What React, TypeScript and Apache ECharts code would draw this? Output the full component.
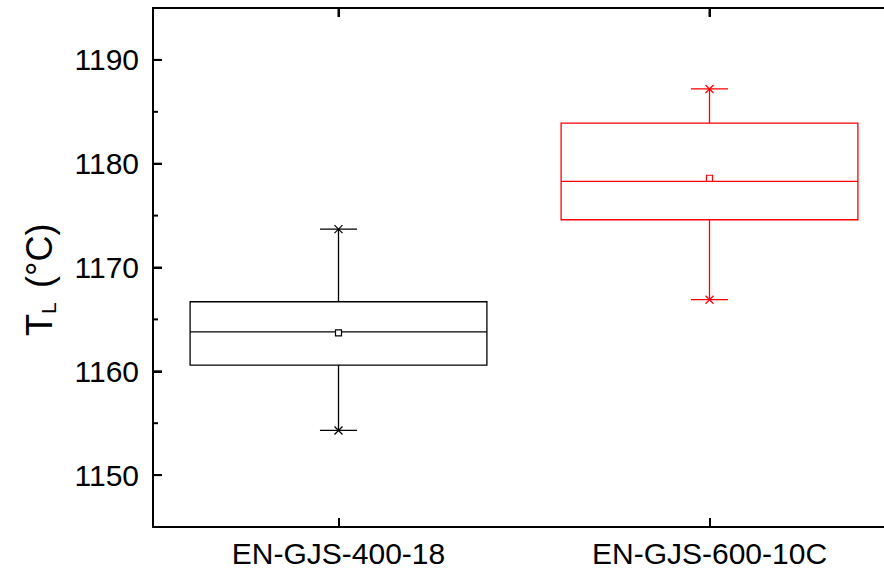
import React, { useEffect, useRef } from "react";
import * as echarts from "echarts";

const categories = ["EN-GJS-400-18", "EN-GJS-600-10C"];
const minValues = [1154.3, 1166.9];
const q1Values = [1160.6, 1174.6];
const medianValues = [1163.8, 1178.3];
const q3Values = [1166.7, 1183.9];
const maxValues = [1173.7, 1187.2];
const meanValues = [1163.7, 1178.6];
const seriesColors = ["#000000", "#ff0000"];

const yMin = 1145;
const yMax = 1195;
const yMajorTicks = [1150, 1160, 1170, 1180, 1190];
const yMinorTicks = [1155, 1165, 1175, 1185];

const FONT = "'Liberation Sans', Arial, sans-serif";

export default function App() {
  const ref = useRef<HTMLDivElement>(null);

  useEffect(() => {
    if (!ref.current) return;
    const chart = echarts.init(ref.current, null, { renderer: "svg" });

    const data = categories.map((_, i) => [
      i,
      minValues[i],
      q1Values[i],
      medianValues[i],
      q3Values[i],
      maxValues[i],
      meanValues[i],
    ]);

    const renderItem = (params: any, api: any) => {
      const idx = api.value(0);
      const color = seriesColors[idx];
      const band = api.size([1, 0])[0];
      const halfW = band * 0.4;
      const capHalf = band * 0.05;
      const [cx, yLo] = api.coord([idx, api.value(1)]);
      const yQ1 = api.coord([idx, api.value(2)])[1];
      const yMed = api.coord([idx, api.value(3)])[1];
      const yQ3 = api.coord([idx, api.value(4)])[1];
      const yHi = api.coord([idx, api.value(5)])[1];
      const yMean = api.coord([idx, api.value(6)])[1];
      const lw = 1.3;
      const ls = { stroke: color, lineWidth: lw, fill: "none" };
      const xs = 4;
      const sq = 3;
      const cross = (y: number) => [
        { type: "line", shape: { x1: cx - xs, y1: y - xs, x2: cx + xs, y2: y + xs }, style: ls },
        { type: "line", shape: { x1: cx - xs, y1: y + xs, x2: cx + xs, y2: y - xs }, style: ls },
      ];
      return {
        type: "group",
        children: [
          { type: "rect", shape: { x: cx - halfW, y: yQ3, width: halfW * 2, height: yQ1 - yQ3 }, style: { stroke: color, lineWidth: lw, fill: "none" } },
          { type: "line", shape: { x1: cx - halfW, y1: yMed, x2: cx + halfW, y2: yMed }, style: ls },
          { type: "line", shape: { x1: cx, y1: yQ3, x2: cx, y2: yHi }, style: ls },
          { type: "line", shape: { x1: cx, y1: yQ1, x2: cx, y2: yLo }, style: ls },
          { type: "line", shape: { x1: cx - capHalf, y1: yHi, x2: cx + capHalf, y2: yHi }, style: ls },
          { type: "line", shape: { x1: cx - capHalf, y1: yLo, x2: cx + capHalf, y2: yLo }, style: ls },
          ...cross(yHi),
          ...cross(yLo),
          { type: "rect", shape: { x: cx - sq, y: yMean - sq, width: sq * 2, height: sq * 2 }, style: { stroke: color, lineWidth: 1.2, fill: "#ffffff" } },
        ],
      };
    };

    chart.setOption({
      animation: false,
      backgroundColor: "#ffffff",
      grid: { left: 153, right: -11, top: 8, bottom: 43, containLabel: false, outerBoundsMode: "none" },
      xAxis: [
        {
          type: "category",
          data: categories,
          position: "bottom",
          axisLine: { show: true, onZero: false, lineStyle: { color: "#000", width: 2 } },
          axisTick: { show: true, inside: true, length: 9, alignWithLabel: true, lineStyle: { color: "#000", width: 2 } },
          axisLabel: { color: "#000", fontSize: 30, fontFamily: FONT, margin: 11 },
          splitLine: { show: false },
        },
        {
          type: "category",
          data: categories,
          position: "top",
          axisLine: { show: true, onZero: false, lineStyle: { color: "#000", width: 2 } },
          axisTick: { show: true, inside: true, length: 9, alignWithLabel: true, lineStyle: { color: "#000", width: 2 } },
          axisLabel: { show: false },
          splitLine: { show: false },
        },
      ],
      yAxis: [
        {
          type: "value",
          min: yMin,
          max: yMax,
          position: "left",
          axisLine: { show: true, onZero: false, lineStyle: { color: "#000", width: 2 } },
          axisTick: { show: true, inside: true, length: 9, lineStyle: { color: "#000", width: 2 } },
          axisLabel: {
            color: "#000",
            fontSize: 30,
            fontFamily: FONT,
            margin: 14,
            formatter: (v: number) => (yMajorTicks.indexOf(v) >= 0 ? String(v) : ""),
          },
          splitLine: { show: false },
        },
      ],
      series: [
        {
          type: "custom",
          xAxisIndex: 0,
          yAxisIndex: 0,
          renderItem,
          data,
          encode: { x: 0, y: [1, 2, 3, 4, 5, 6] },
          clip: false,
          z: 3,
        },
      ],
    });

    // Frame pieces located through the library's scales.
    const toY = (v: number) => chart.convertToPixel({ yAxisIndex: 0 }, v) as number;
    const toX = (i: number) => chart.convertToPixel({ xAxisIndex: 0 }, i) as number;
    const axisX = 153;
    const rightX = 884;
    const st = { stroke: "#000", lineWidth: 2, fill: "none" };
    const frame: any[] = [];
    yMajorTicks.forEach((v) => {
      const y = toY(v);
      frame.push({ type: "line", shape: { x1: axisX, y1: y, x2: axisX + 9, y2: y }, style: { ...st } });
    });
    yMinorTicks.forEach((v) => {
      const y = toY(v);
      frame.push({ type: "line", shape: { x1: axisX, y1: y, x2: axisX + 5, y2: y }, style: { ...st } });
    });
    const yTop = toY(yMax);
    frame.push({ type: "line", shape: { x1: axisX - 1, y1: yTop, x2: rightX, y2: yTop }, style: { ...st } });
    categories.forEach((_, i) => {
      const x = toX(i);
      frame.push({ type: "line", shape: { x1: x, y1: yTop, x2: x, y2: yTop + 9 }, style: { ...st } });
    });

    chart.setOption({
      graphic: [
        {
          type: "group",
          x: 39,
          y: 336,
          rotation: Math.PI / 2,
          children: [
            { type: "text", x: 0, y: 0, style: { text: "T", fontSize: 36, fontFamily: FONT, fill: "#000", align: "left", verticalAlign: "middle" } },
            { type: "text", x: 22, y: 9, style: { text: "L", fontSize: 21, fontFamily: FONT, fill: "#000", align: "left", verticalAlign: "middle" } },
            { type: "text", x: 48, y: 0, style: { text: "(°C)", fontSize: 36, fontFamily: FONT, fill: "#000", align: "left", verticalAlign: "middle" } },
          ],
        },
        { type: "group", children: frame, z: 10 },
      ],
    });

    return () => chart.dispose();
  }, []);

  return (
    <div
      ref={ref}
      style={{ position: "absolute", left: 0, top: 0, width: 884, height: 570, background: "#fff" }}
    />
  );
}
